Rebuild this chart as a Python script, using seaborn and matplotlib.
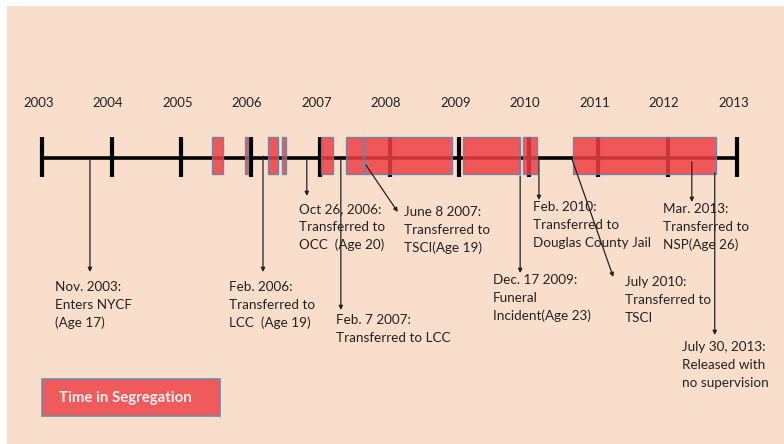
import matplotlib
matplotlib.use("Agg")
import matplotlib.pyplot as plt
import seaborn as sns
from matplotlib.patches import Rectangle

# years on the timeline
years = [2003, 2004, 2005, 2006, 2007, 2008, 2009, 2010, 2011, 2012, 2013]

# periods spent in segregation (decimal years)
seg_start = [2005.45, 2005.92, 2006.25, 2006.45, 2007.01, 2007.37, 2007.63, 2009.06, 2009.92, 2010.64]
seg_end = [2005.60, 2005.97, 2006.40, 2006.51, 2007.19, 2007.62, 2008.90, 2009.88, 2010.12, 2012.70]

# events pointed at on the timeline
event_dates = [2003.69, 2006.18, 2006.81, 2007.30, 2007.66, 2009.88, 2010.15, 2010.63, 2012.35, 2012.68]
event_labels = [
    "Nov. 2003:\nEnters NYCF\n(Age 17)",
    "Feb. 2006:\nTransferred to\nLCC  (Age 19)",
    "Oct 26, 2006:\nTransferred to\nOCC  (Age 20)",
    "Feb. 7 2007:\nTransferred to LCC",
    "June 8 2007:\nTransferred to\nTSCI(Age 19)",
    "Dec. 17 2009:\nFuneral\nIncident(Age 23)",
    "Feb. 2010:\nTransferred to\nDouglas County Jail",
    "July 2010:\nTransferred to\nTSCI",
    "Mar. 2013:\nTransferred to\nNSP(Age 26)",
    "July 30, 2013:\nReleased with\nno supervision",
]

# layout: arrow start y, arrow end (x, y), text anchor (x, y); y counts down from the top
arrow_y0 = [158, 156, 158, 157, 165, 176, 159, 160, 162, 173]
arrow_end = [(2003.69, 272), (2006.18, 272), (2006.81, 196), (2007.30, 310), (2008.12, 212),
             (2009.88, 273), (2010.15, 200), (2011.22, 277), (2012.35, 202), (2012.68, 335)]
text_pos = [(2003.19, 281), (2005.69, 281), (2006.70, 203), (2007.23, 314), (2008.21, 206),
            (2009.49, 274), (2010.06, 201), (2011.39, 276), (2011.94, 203), (2012.21, 341)]

sns.set_theme(style="white")
plt.rcParams['font.family'] = ['Lato', 'DejaVu Sans']

bg = "#F9DECC"
red = "#EE4044"
edge = "#5F82A8"
ink = "#222222"

fig = plt.figure(figsize=(7.84, 4.44), dpi=100)
fig.patch.set_facecolor("white")
ax = fig.add_axes([7 / 784, 0, 777 / 784, 438 / 444])
ax.set_facecolor(bg)
ax.set_xlim(2003 - 35 / 69.5, 2003 + 742 / 69.5)
ax.set_ylim(444, 6)
ax.axis("off")
ax.add_patch(Rectangle((0, 0), 1, 1, transform=ax.transAxes, facecolor=bg, edgecolor="none", zorder=0))

# main timeline
sns.lineplot(x=[years[0], years[-1]], y=[158, 158], color="black", linewidth=2.6, ax=ax, zorder=2)
ax.vlines(years, 137, 177, color="black", linewidth=3, zorder=2)
for yr in years:
    ax.text(yr - 0.05, 103, str(yr), ha="center", va="center", fontsize=9.5, color=ink)

# segregation blocks
widths = [e - s for s, e in zip(seg_start, seg_end)]
ax.bar(seg_start, [37] * len(seg_start), width=widths, bottom=137, align="edge",
       color=red, alpha=0.85, edgecolor=edge, linewidth=1, zorder=3)

# event arrows and labels
for d, y0, (x1, y1), (tx, ty), lab in zip(event_dates, arrow_y0, arrow_end, text_pos, event_labels):
    ax.annotate("", xy=(x1, y1), xytext=(d, y0),
                arrowprops=dict(arrowstyle="-|>", color=ink, lw=0.9, mutation_scale=6,
                                shrinkA=0, shrinkB=0), zorder=4)
    ax.text(tx, ty, lab, ha="left", va="top", fontsize=9.7, color=ink, linespacing=1.58, zorder=5)

# legend box
ax.add_patch(Rectangle((2003, 379), 178 / 69.5, 37, facecolor="#F05A5A",
                       edgecolor="#6F8AA8", linewidth=1.2, zorder=3))
ax.text(2003 + 17 / 69.5, 398, "Time in Segregation", ha="left", va="center",
        fontsize=10.8, fontweight="bold", color="#FFF2F2", zorder=4)

fig.savefig("out.png", dpi=100, facecolor=fig.get_facecolor())
